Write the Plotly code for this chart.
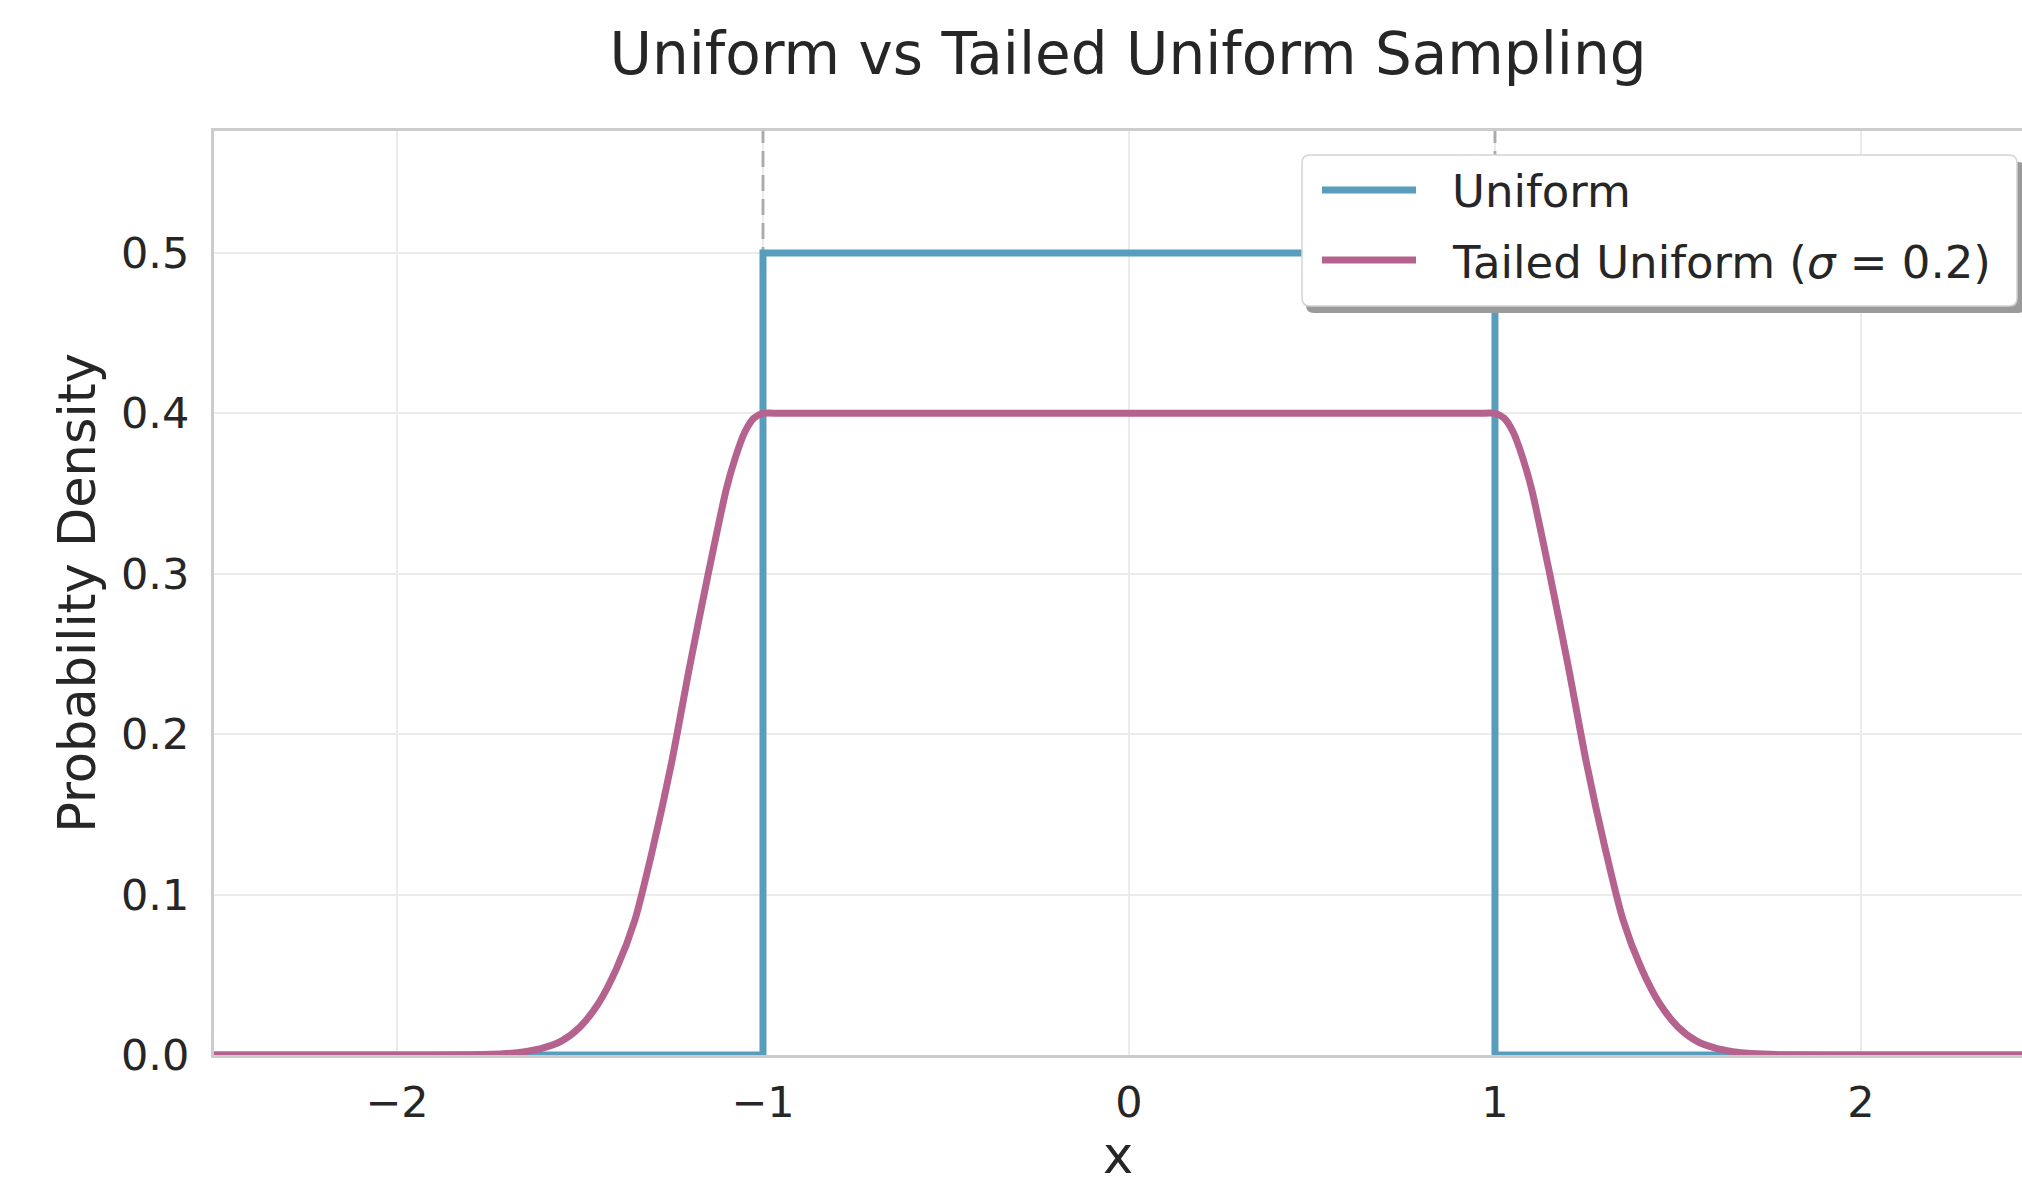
import plotly.graph_objects as go

# ---- data -------------------------------------------------------------
# plain uniform density on [-1, 1]
uniform_x = [-2.5, -1.0, -1.0, 1.0, 1.0, 2.5]
uniform_y = [0.0, 0.0, 0.5, 0.5, 0.0, 0.0]

# tailed uniform density (sigma = 0.2): flat core plus soft tails
tailed_x = [-2.5, -2.0, -1.8, -1.7, -1.65, -1.6, -1.55, -1.5, -1.45, -1.4, -1.35,
            -1.3, -1.25, -1.2, -1.15, -1.1, -1.075, -1.05, -1.025, -1.0,
            -0.95, -0.5, 0.0, 0.5, 0.95,
            1.0, 1.025, 1.05, 1.075, 1.1, 1.15, 1.2, 1.25, 1.3, 1.35, 1.4, 1.45, 1.5,
            1.55, 1.6, 1.65, 1.7, 1.8, 2.0, 2.5]
tailed_y = [0.0, 0.0, 0.0001, 0.0009, 0.0021, 0.0044, 0.0088, 0.0175, 0.032, 0.054, 0.0842,
            0.1298, 0.182, 0.2426, 0.2995, 0.3529, 0.3728, 0.3882, 0.397, 0.40,
            0.40, 0.40, 0.40, 0.40, 0.40,
            0.40, 0.397, 0.3882, 0.3728, 0.3529, 0.2995, 0.2426, 0.182, 0.1298, 0.0842, 0.054,
            0.032, 0.0175, 0.0088, 0.0044, 0.0021, 0.0009, 0.0001, 0.0, 0.0]

bounds = [-1.0, 1.0]

series_names = ["Uniform", "Tailed Uniform (<i>σ</i> = 0.2)"]
series_colors = ["#589ebc", "#b5628e"]

x_ticks = [-2, -1, 0, 1, 2]
x_tick_text = ["−2", "−1", "0", "1", "2"]
y_ticks = [0.0, 0.1, 0.2, 0.3, 0.4, 0.5]
x_range = [-2.5, 2.44]
y_range = [0.0, 0.576]

# ---- geometry ---------------------------------------------------------
W, H = 2022, 1185
PL, PR, PT, PB = 214, 2022, 131, 1055
TEXT = "#262626"
FONT = "DejaVu Sans"


def fx(p):
    return (p - PL) / (PR - PL)


def fy(p):
    return (PB - p) / (PB - PT)


def rounded_rect(x0, y0, x1, y1, r):
    rx, ry = r / (PR - PL), r / (PB - PT)
    a, b, c, d = fx(x0), fy(y0), fx(x1), fy(y1)
    return (f"M{a + rx},{b} L{c - rx},{b} Q{c},{b} {c},{b - ry} "
            f"L{c},{d + ry} Q{c},{d} {c - rx},{d} L{a + rx},{d} "
            f"Q{a},{d} {a},{d + ry} L{a},{b - ry} Q{a},{b} {a + rx},{b} Z")


fig = go.Figure()

# support boundaries, drawn first so the densities sit on top
for b in bounds:
    fig.add_trace(go.Scatter(x=[b, b], y=y_range, mode="lines", hoverinfo="skip",
                             line=dict(color="rgba(128,128,128,0.6)", width=3,
                                       dash="16px,8px"),
                             showlegend=False))

fig.add_trace(go.Scatter(x=uniform_x, y=uniform_y, mode="lines", name="Uniform",
                         line=dict(color=series_colors[0], width=7),
                         showlegend=False))
fig.add_trace(go.Scatter(x=tailed_x, y=tailed_y, mode="lines", name="Tailed Uniform",
                         line=dict(color=series_colors[1], width=7,
                                   shape="spline", smoothing=0.7),
                         showlegend=False))

shapes = []
# legend frame with drop shadow
shapes.append(dict(type="path", xref="paper", yref="paper",
                   path=rounded_rect(1306, 162, 2026, 313, 8),
                   fillcolor="#9a9a9a", line=dict(width=0), layer="above"))
shapes.append(dict(type="path", xref="paper", yref="paper",
                   path=rounded_rect(1302, 155, 2017, 306, 8),
                   fillcolor="white", line=dict(color="#d4d4d4", width=1.5), layer="above"))

annotations = []
legend_rows = [190, 260]
for name, color, row in zip(series_names, series_colors, legend_rows):
    shapes.append(dict(type="line", xref="paper", yref="paper",
                       x0=fx(1322), x1=fx(1416), y0=fy(row), y1=fy(row),
                       line=dict(color=color, width=7), layer="above"))
    annotations.append(dict(xref="paper", yref="paper", x=fx(1450), y=fy(row + 2),
                            xanchor="left", yanchor="middle", showarrow=False,
                            text=name, font=dict(family=FONT, size=45, color=TEXT)))

fig.update_layout(
    width=W, height=H,
    margin=dict(l=PL, r=W - PR, t=PT, b=H - PB),
    paper_bgcolor="white", plot_bgcolor="white",
    font=dict(family=FONT, color=TEXT),
    title=dict(text="Uniform vs Tailed Uniform Sampling", xref="paper", x=fx(1128),
               xanchor="center", yref="container", y=1 - 54 / H, yanchor="middle",
               font=dict(family=FONT, size=58, color=TEXT)),
    shapes=shapes,
    annotations=annotations,
    showlegend=False,
)

fig.update_xaxes(range=x_range, tickvals=x_ticks, ticktext=x_tick_text,
                 tickfont=dict(size=43, color=TEXT), ticks="", ticklabelstandoff=7,
                 showgrid=True, gridcolor="#ebebeb", gridwidth=1.5,
                 showline=True, linecolor="#cccccc", linewidth=3, mirror=True,
                 zeroline=False,
                 title=dict(text="x", font=dict(size=51, color=TEXT), standoff=12))
fig.update_yaxes(range=y_range, tickvals=y_ticks, tickformat=".1f",
                 tickfont=dict(size=43, color=TEXT), ticks="", ticklabelstandoff=13,
                 showgrid=True, gridcolor="#ebebeb", gridwidth=1.5,
                 showline=True, linecolor="#cccccc", linewidth=3, mirror=False,
                 zeroline=False,
                 title=dict(text="Probability Density", font=dict(size=51, color=TEXT),
                            standoff=10))

fig.write_html("out.html")
